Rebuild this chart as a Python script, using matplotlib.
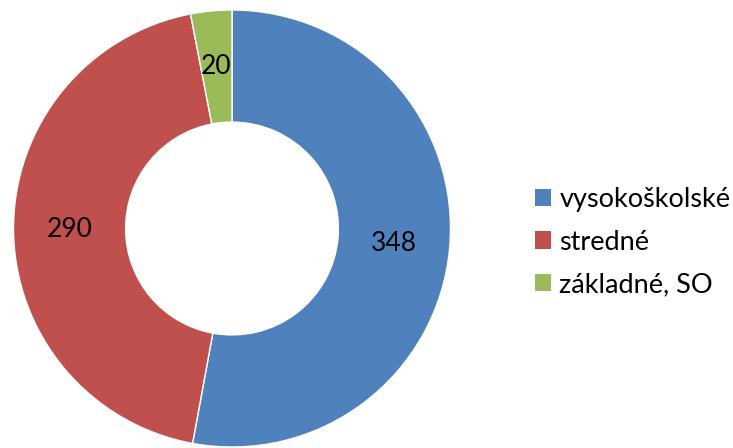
import matplotlib
matplotlib.use('Agg')
import matplotlib.pyplot as plt
from matplotlib.patches import Patch

# Data
categories = ['vysokoškolské', 'stredné', 'základné, SO']
values = [348, 290, 20]
colors = ['#4F81BD', '#C0504D', '#9BBB59']

plt.rcParams['font.family'] = ['Lato', 'DejaVu Sans']

fig = plt.figure(figsize=(7.33, 4.48), dpi=100)
# donut centre at (232, 228.5) px, outer radius 218.5 px
ax = fig.add_axes([13.5 / 733, 1.0 / 448, 437 / 733, 437 / 448])

wedges, texts, autotexts = ax.pie(
    values, colors=colors, startangle=90, counterclock=False,
    radius=1.0, wedgeprops=dict(width=0.513, edgecolor='white', linewidth=1),
    autopct=lambda p: '{:.0f}'.format(p * sum(values) / 100),
    pctdistance=0.745, textprops=dict(fontsize=19, color='black'))
ax.set_xlim(-1, 1)
ax.set_ylim(-1, 1)
ax.set_aspect('equal')
ax.axis('off')

handles = [Patch(facecolor=c, edgecolor='none') for c in colors]
fig.legend(handles, categories, loc='center left',
           bbox_to_anchor=(535 / 733, 1 - 242 / 448), frameon=False,
           fontsize=19.5, handlelength=0.6, handleheight=0.6,
           handletextpad=0.3, labelspacing=0.65, borderaxespad=0,
           borderpad=0)

fig.savefig('out.png', dpi=100)
